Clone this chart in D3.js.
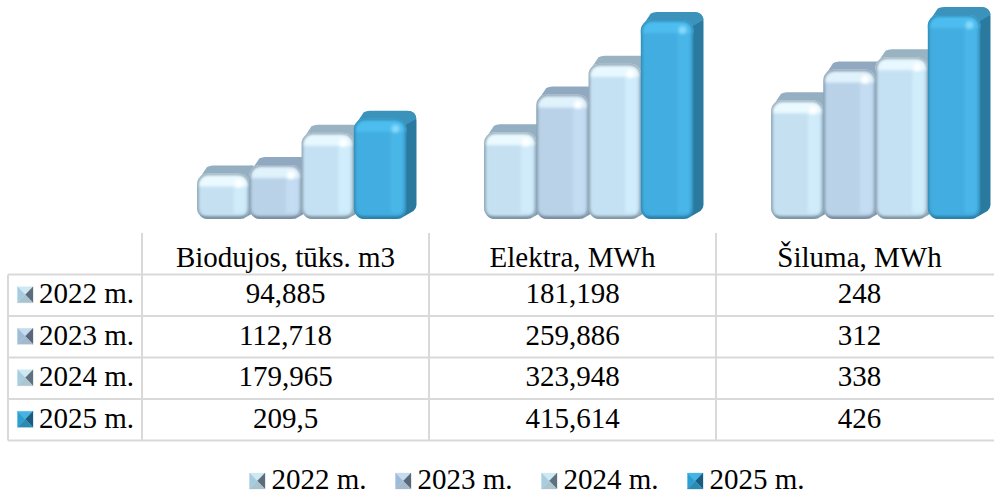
<!DOCTYPE html>
<html><head><meta charset="utf-8">
<script src="https://cdnjs.cloudflare.com/ajax/libs/d3/7.8.5/d3.min.js"></script>
<style>html,body{margin:0;padding:0;background:#fff;overflow:hidden}text{font-family:"Liberation Serif",serif;fill:#000}</style>
</head><body><svg id="c" width="994" height="495"></svg>
<script>
const categories=["Biodujos, tūks. m3","Elektra, MWh","Šiluma, MWh"];
const seriesNames=["2022 m.","2023 m.","2024 m.","2025 m."];
const v2022=[94.885,181.198,248];
const v2023=[112.718,259.886,312];
const v2024=[179.965,323.948,338];
const v2025=[209.5,415.614,426];
const labels2022=["94,885","181,198","248"];
const labels2023=["112,718","259,886","312"];
const labels2024=["179,965","323,948","338"];
const labels2025=["209,5","415,614","426"];
const allValues=[v2022,v2023,v2024,v2025];
const allLabels=[labels2022,labels2023,labels2024,labels2025];

const themes=[
 {base:"#c5e0f1",hi:"#eafaff",right:"#d0ecfb",top:"#93afc1",side:"#7d9cb0",edge:"#76909f",spot:"#ffffff",
  mk:["#cfe8f2","#a4cbdf","#5b6d7b","#a9c3cf"]},
 {base:"#b9d2e8",hi:"#e0f2fc",right:"#c4ddf3",top:"#91a9c0",side:"#7f97ad",edge:"#76899c",spot:"#ffffff",
  mk:["#c6dcee","#9dbcd9","#586779","#a5b9cc"]},
 {base:"#c4e1f3",hi:"#e7f8ff",right:"#d0edfc",top:"#9ab3c3",side:"#86a2b4",edge:"#7d929f",spot:"#ffffff",
  mk:["#cfe8f2","#a6cde0","#5e717e","#abc5d1"]},
 {base:"#42ade0",hi:"#4dbdef",right:"#4ab6e8",top:"#3a93bc",side:"#2a7aa0",edge:"#2a7ea6",spot:"#86d8fa",
  mk:["#45b4e4","#2b9fd1","#1a5b80","#2b8bb2"]}
];

const svg=d3.select("#c");
const defs=svg.append("defs");
const blur=(id,sd,m)=>defs.append("filter").attr("id",id).attr("x",-m+"%").attr("y",-m+"%").attr("width",100+2*m+"%").attr("height",100+2*m+"%").append("feGaussianBlur").attr("stdDeviation",sd);
blur("b3",3,50);blur("b1",1.5,40);blur("s",0.6,15);

// table geometry
const tableLeft=8, rowHeadRight=142, colW=287;
const x0=d3.scaleBand().domain(categories).range([rowHeadRight,rowHeadRight+colW*3]);
const groupW=209, groupOff=55;
const x1=d3.scaleBand().domain(seriesNames).range([0,groupW]);
const baseY=219;
const y=d3.scaleLinear().domain([0,426]).range([baseY,baseY-204]);
const dx=10, dy=8, r=11;

const chart=svg.append("g");
const bars=[];
categories.forEach((c,ci)=>seriesNames.forEach((s,si)=>bars.push({c,ci,s,si,v:allValues[si][ci]})));
const bar=chart.selectAll("g.bar").data(bars).join("g").attr("class","bar")
 .attr("transform",d=>`translate(${x0(d.c)+groupOff+x1(d.s)},${y(d.v)})`)
 .attr("filter","url(#s)");
const W=x1.bandwidth()+0.5;
const H=d=>baseY-y(d.v);

bar.each(function(d,i){
 const g=d3.select(this), t=themes[d.si], h=H(d), id="cl"+i;
 defs.append("clipPath").attr("id",id).append("rect").attr("width",W).attr("height",h).attr("rx",r).attr("ry",r);
 // extrusion side
 const side=d3.path();
 side.moveTo(W-8,-1); side.lineTo(W+dx-9,-dy);
 side.quadraticCurveTo(W+dx,-dy,W+dx,-dy+10);
 side.lineTo(W+dx,h-dy-6); side.quadraticCurveTo(W+dx,h-dy-3,W+dx-3,h-dy);
 side.lineTo(W-7,h); side.closePath();
 g.append("path").attr("d",side.toString()).attr("fill",t.side);
 // extrusion top
 const top=d3.path();
 top.moveTo(1,7); top.lineTo(dx,-dy+1.5);
 top.quadraticCurveTo(dx+2.5,-dy,dx+6,-dy);
 top.lineTo(W+dx-10,-dy); top.quadraticCurveTo(W+dx-1,-dy,W+dx,-dy+8);
 top.lineTo(W-4,8); top.closePath();
 g.append("path").attr("d",top.toString()).attr("fill",t.top);
 // front
 const f=g.append("g").attr("clip-path",`url(#${id})`);
 f.append("rect").attr("width",W).attr("height",h).attr("fill",t.base);
 f.append("rect").attr("x",W-16).attr("y",8).attr("width",12).attr("height",h-14).attr("fill",t.right).attr("filter","url(#b1)");
 f.append("rect").attr("x",-6).attr("y",-6).attr("width",W+12).attr("height",19).attr("fill",t.hi).attr("filter","url(#b1)");
 f.append("rect").attr("x",W-15).attr("y",6).attr("width",8).attr("height",8).attr("rx",4).attr("fill",t.spot).attr("filter","url(#b1)");
 f.append("rect").attr("x",0).attr("y",0).attr("width",W).attr("height",h).attr("rx",r).attr("fill","none").attr("stroke",t.edge).attr("stroke-width",2.6).attr("filter","url(#b1)");
 f.append("rect").attr("x",-4).attr("y",h-2.5).attr("width",W+8).attr("height",5).attr("fill",t.edge).attr("filter","url(#b1)");
});

// table lines
const rowY=d3.scaleBand().domain(seriesNames).range([274.5,440.5]);
const grid=svg.append("g").attr("stroke","#d9d9d9").attr("stroke-width",2);
const hY=[...seriesNames.map(s=>rowY(s)),440.5];
grid.selectAll("line.h").data(hY).join("line").attr("class","h")
 .attr("x1",tableLeft).attr("x2",994).attr("y1",d=>d).attr("y2",d=>d);
const vX=[rowHeadRight,...categories.slice(1).map(c=>x0(c))];
grid.selectAll("line.v").data(vX).join("line").attr("class","v")
 .attr("x1",d=>d).attr("x2",d=>d).attr("y1",233).attr("y2",440.5);
grid.append("line").attr("x1",tableLeft).attr("x2",tableLeft).attr("y1",274.5).attr("y2",440.5);

// pyramid marker: four facets meeting at the centre
function marker(g,x,yy,t,w,h){
 const cx=x+w/2, cy=yy+h/2;
 const facets=[
  [[x,yy],[x+w,yy],[cx,cy]],
  [[x,yy],[cx,cy],[x,yy+h]],
  [[x+w,yy],[x+w,yy+h],[cx,cy]],
  [[x,yy+h],[cx,cy],[x+w,yy+h]]
 ];
 facets.forEach((p,i)=>g.append("path").attr("d",d3.line()(p)+"Z").attr("fill",t.mk[i]).attr("stroke",t.mk[i]).attr("stroke-width",0.3));
}

const fs=29;
// header
svg.append("g").selectAll("text").data(categories).join("text")
 .attr("x",d=>x0(d)+x0.bandwidth()/2).attr("y",267).attr("text-anchor","middle").attr("font-size",fs).text(d=>d);
// rows
seriesNames.forEach((s,si)=>{
 const yy=rowY(s)+rowY.bandwidth()/2;
 const g=svg.append("g");
 marker(g,17.5,yy-8.5,themes[si],15.5,16);
 g.append("text").attr("x",39).attr("y",yy+8).attr("font-size",fs).text(s);
 g.selectAll("text.val").data(categories).join("text").attr("class","val")
  .attr("x",d=>x0(d)+x0.bandwidth()/2).attr("y",yy+8).attr("text-anchor","middle").attr("font-size",fs)
  .text((d,i)=>allLabels[si][i]);
});
// legend
const lx=d3.scalePoint().domain(seriesNames).range([249.5,687.5]);
seriesNames.forEach((s,si)=>{
 const g=svg.append("g");
 marker(g,lx(s),473,themes[si],15.5,16);
 g.append("text").attr("x",lx(s)+22).attr("y",488.5).attr("font-size",fs).text(s);
});
</script></body></html>
